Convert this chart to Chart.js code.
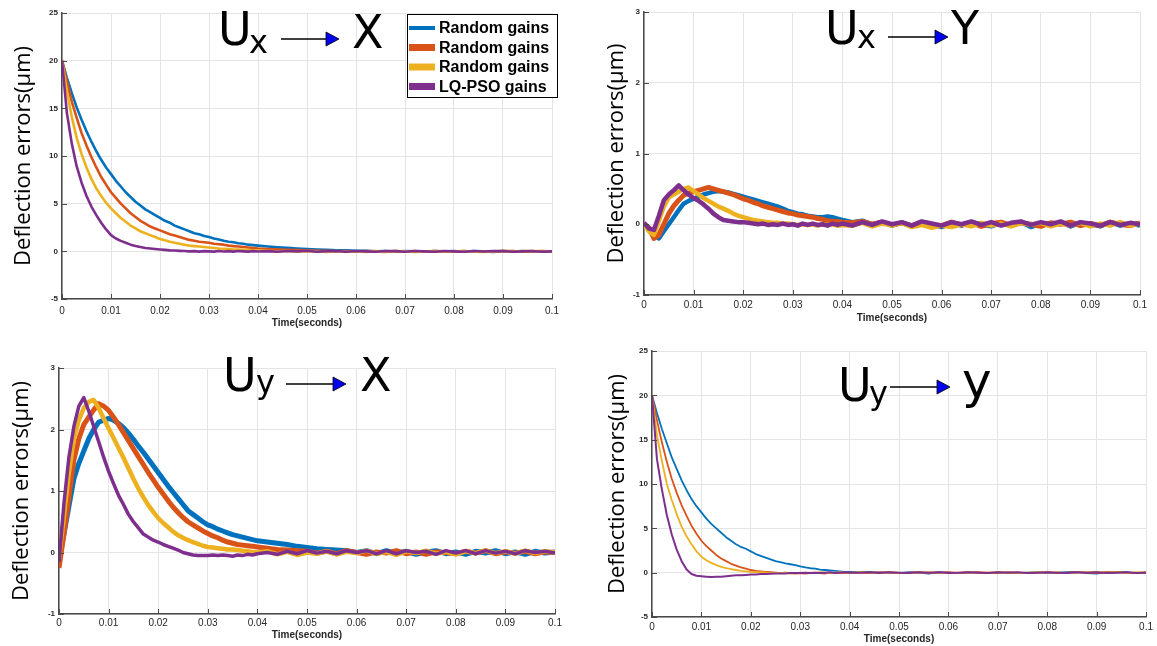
<!DOCTYPE html>
<html>
<head>
<meta charset="utf-8">
<script src="https://cdn.jsdelivr.net/npm/chart.js@4.4.1/dist/chart.umd.min.js"></script>
<style>
  body { margin: 0; background: #fff; width: 1157px; height: 646px; position: relative; overflow: hidden; }
  canvas { position: absolute; }
</style>
</head>
<body>
<canvas id="p1" width="578" height="330" style="left:0px;top:0px"></canvas>
<canvas id="p2" width="577" height="330" style="left:580px;top:0px"></canvas>
<canvas id="p3" width="578" height="316" style="left:0px;top:330px"></canvas>
<canvas id="p4" width="577" height="316" style="left:580px;top:330px"></canvas>
<script>
// time axis (seconds), shared by every panel
const timeS = [
  0, 0.001, 0.002, 0.003, 0.004, 0.005, 0.006, 0.007, 0.008, 0.009,
  0.010, 0.011, 0.012, 0.013, 0.014, 0.015, 0.016, 0.017, 0.018, 0.019,
  0.020, 0.021, 0.022, 0.023, 0.024, 0.025, 0.026, 0.027, 0.028, 0.029,
  0.030, 0.031, 0.032, 0.033, 0.034, 0.035, 0.036, 0.037, 0.038, 0.039,
  0.040,
  0.042, 0.044, 0.046, 0.048, 0.050, 0.052, 0.054, 0.056, 0.058, 0.060,
  0.062, 0.064, 0.066, 0.068, 0.070, 0.072, 0.074, 0.076, 0.078, 0.080,
  0.082, 0.084, 0.086, 0.088, 0.090, 0.092, 0.094, 0.096, 0.098, 0.100
];

const seriesNames = ['Random gains', 'Random gains', 'Random gains', 'LQ-PSO gains'];
const seriesColors = ['#0072BD', '#D95319', '#EDB120', '#7E2F8E'];

const xTicks = [0, 0.01, 0.02, 0.03, 0.04, 0.05, 0.06, 0.07, 0.08, 0.09, 0.1];
const xTickLabels = ['0', '0.01', '0.02', '0.03', '0.04', '0.05', '0.06', '0.07', '0.08', '0.09', '0.1'];
const yTicksBig = [-5, 0, 5, 10, 15, 20, 25];
const yTicksSmall = [-1, 0, 1, 2, 3];

// Ux -> X
const p1Blue = [20, 18.2, 16.6, 15.1, 13.8, 12.6, 11.5, 10.5, 9.6, 8.8, 8.1, 7.4, 6.8, 6.2, 5.7, 5.2, 4.8, 4.4, 4.1, 3.8,
  3.5, 3.2, 3.0, 2.7, 2.5, 2.3, 2.1, 1.9, 1.8, 1.6, 1.5, 1.35, 1.25, 1.1, 1.0, 0.95, 0.85, 0.8, 0.7, 0.65, 0.6,
  0.5, 0.42, 0.36, 0.3, 0.25, 0.2, 0.17, 0.12, 0.1, 0.05, 0.06, 0.0, 0.04, -0.04, 0.02, 0.0, -0.05, 0.04, -0.02, 0.02,
  -0.05, 0.02, 0.0, -0.06, 0.02, -0.03, 0.03, -0.05, 0.0, -0.03];
const p1Orange = [20, 17.8, 15.7, 14.0, 12.4, 11.1, 9.9, 8.8, 7.8, 7.0, 6.2, 5.6, 5.0, 4.5, 4.0, 3.6, 3.2, 2.9, 2.6, 2.4,
  2.2, 2.0, 1.8, 1.65, 1.5, 1.35, 1.2, 1.1, 1.0, 0.95, 0.9, 0.8, 0.75, 0.7, 0.6, 0.55, 0.5, 0.45, 0.4, 0.35, 0.3,
  0.25, 0.2, 0.17, 0.13, 0.1, 0.05, 0.06, 0.0, 0.04, -0.04, 0.02, 0.0, -0.06, 0.02, -0.02, 0.04, -0.04, 0.02, 0.0, -0.04,
  0.04, -0.02, 0.0, -0.04, 0.02, 0.04, -0.04, 0.0, 0.02, -0.02];
const p1Yellow = [20, 16.8, 14.1, 11.9, 10.2, 8.8, 7.6, 6.6, 5.8, 5.1, 4.5, 4.0, 3.5, 3.1, 2.7, 2.4, 2.1, 1.9, 1.7, 1.5,
  1.3, 1.15, 1.0, 0.9, 0.8, 0.7, 0.6, 0.55, 0.5, 0.45, 0.4, 0.35, 0.3, 0.27, 0.24, 0.2, 0.18, 0.15, 0.13, 0.1, 0.1,
  0.06, 0.0, 0.04, -0.04, 0.02, 0.0, -0.06, 0.04, -0.02, 0.0, -0.06, 0.02, -0.04, 0.02, 0.0, -0.06, 0.0, 0.04, -0.04, 0.0,
  0.04, -0.04, -0.06, 0.0, 0.04, -0.04, 0.02, 0.04, -0.04, 0.0];
const p1Purple = [20, 14.5, 11.3, 8.9, 7.2, 5.8, 4.7, 3.8, 3.0, 2.3, 1.7, 1.35, 1.1, 0.9, 0.7, 0.55, 0.45, 0.35, 0.3, 0.25,
  0.2, 0.15, 0.1, 0.08, 0.05, 0.03, 0.0, 0.02, -0.03, 0.02, 0.0, -0.03, 0.03, -0.02, 0.02, -0.03, 0.03, 0.0, -0.03, 0.02, -0.02,
  0.02, -0.04, 0.04, 0.0, 0.06, -0.04, 0.02, 0.04, -0.04, 0.04, 0.0, -0.04, 0.04, 0.02, -0.04, 0.04, 0.0, -0.04, 0.04, 0.0,
  -0.04, 0.04, -0.02, 0.02, 0.04, -0.04, 0.0, 0.04, -0.04, 0.0];

// Ux -> Y
const p2Blue = [0.0, -0.05, -0.15, -0.2, -0.1, 0.0, 0.1, 0.2, 0.29, 0.33, 0.36, 0.39, 0.42, 0.44, 0.46, 0.47, 0.46, 0.45, 0.43, 0.41,
  0.39, 0.37, 0.35, 0.33, 0.31, 0.29, 0.27, 0.25, 0.22, 0.19, 0.17, 0.15, 0.14, 0.12, 0.11, 0.1, 0.1, 0.11, 0.1, 0.08, 0.06,
  0.03, 0.05, 0.0, 0.03, -0.02, 0.02, -0.03, 0.03, 0.0, -0.04, 0.02, -0.02, 0.03, 0.0, -0.03, 0.02, -0.02, 0.03, -0.04, 0.01,
  -0.02, 0.03, -0.03, 0.02, 0.0, -0.03, 0.03, -0.02, 0.01, -0.02];
const p2Orange = [0.0, -0.05, -0.2, -0.15, 0.0, 0.15, 0.26, 0.34, 0.41, 0.44, 0.46, 0.48, 0.5, 0.52, 0.5, 0.48, 0.46, 0.44, 0.42, 0.39,
  0.36, 0.34, 0.31, 0.29, 0.26, 0.24, 0.22, 0.2, 0.18, 0.16, 0.15, 0.13, 0.12, 0.11, 0.1, 0.08, 0.07, 0.05, 0.04, 0.04, 0.03,
  0.02, 0.04, 0.0, 0.03, -0.01, 0.02, -0.02, 0.03, 0.0, -0.02, 0.03, -0.01, 0.02, -0.03, 0.01, 0.03, -0.02, 0.02, 0.0, -0.03,
  0.02, 0.0, 0.03, -0.02, 0.01, -0.02, 0.03, 0.0, -0.02, 0.02];
const p2Yellow = [0.0, -0.1, -0.15, 0.05, 0.25, 0.38, 0.42, 0.46, 0.5, 0.52, 0.47, 0.42, 0.37, 0.33, 0.29, 0.25, 0.22, 0.19, 0.15, 0.12,
  0.1, 0.08, 0.06, 0.05, 0.04, 0.03, 0.02, 0.02, 0.01, 0.01, 0.0, -0.01, 0.0, -0.01, 0.0, -0.02, 0.0, -0.01, 0.0, -0.02, -0.01,
  -0.02, 0.02, -0.03, 0.01, -0.02, 0.02, -0.04, -0.01, -0.05, -0.02, -0.04, 0.0, -0.03, 0.02, -0.02, 0.01, -0.03, 0.02, -0.01, 0.02,
  -0.03, 0.01, -0.02, 0.02, -0.03, 0.01, -0.02, 0.03, -0.02, 0.01];
const p2Purple = [0.02, -0.06, -0.08, 0.12, 0.34, 0.42, 0.48, 0.55, 0.48, 0.42, 0.37, 0.33, 0.28, 0.22, 0.15, 0.1, 0.06, 0.05, 0.04, 0.03,
  0.03, 0.02, 0.01, 0.0, 0.01, -0.01, 0.0, -0.01, 0.01, -0.01, 0.0, -0.02, 0.01, -0.01, 0.01, -0.01, 0.0, -0.02, 0.01, -0.01, 0.01,
  -0.02, 0.03, -0.01, 0.04, 0.0, 0.03, -0.02, 0.04, 0.01, -0.02, 0.03, 0.0, 0.04, -0.01, 0.03, -0.02, 0.02, 0.04, -0.01, 0.03,
  0.0, 0.04, -0.02, 0.03, 0.01, -0.02, 0.03, -0.01, 0.02, 0.0];

// Uy -> X
const p3Blue = [-0.1, 0.3, 0.75, 1.2, 1.45, 1.65, 1.85, 2.0, 2.12, 2.15, 2.18, 2.15, 2.1, 2.03, 1.94, 1.84, 1.73, 1.63, 1.52, 1.41,
  1.3, 1.19, 1.08, 0.98, 0.88, 0.78, 0.68, 0.62, 0.56, 0.5, 0.45, 0.42, 0.38, 0.35, 0.32, 0.29, 0.27, 0.25, 0.23, 0.21, 0.19,
  0.17, 0.15, 0.13, 0.1, 0.08, 0.06, 0.05, 0.04, 0.03, 0.0, 0.03, -0.02, 0.03, -0.01, 0.02, -0.03, 0.01, 0.03, -0.02, 0.01,
  -0.03, 0.02, -0.01, 0.03, -0.02, 0.01, -0.03, 0.02, -0.01, 0.01];
const p3Orange = [-0.25, 0.3, 0.9, 1.5, 1.85, 2.08, 2.2, 2.32, 2.42, 2.38, 2.31, 2.2, 2.08, 1.95, 1.82, 1.69, 1.56, 1.43, 1.3, 1.18,
  1.06, 0.95, 0.84, 0.74, 0.65, 0.57, 0.5, 0.45, 0.4, 0.35, 0.31, 0.27, 0.24, 0.2, 0.17, 0.15, 0.13, 0.12, 0.11, 0.1, 0.09,
  0.07, 0.05, 0.04, 0.03, 0.02, -0.01, 0.02, -0.02, 0.03, 0.0, -0.03, 0.01, -0.01, 0.03, -0.02, 0.01, -0.03, 0.01, 0.0, -0.02,
  0.02, -0.01, 0.03, -0.02, 0.01, -0.01, 0.02, -0.02, 0.01, 0.0];
const p3Yellow = [-0.1, 0.6, 1.3, 1.85, 2.15, 2.35, 2.45, 2.48, 2.35, 2.18, 2.02, 1.86, 1.7, 1.54, 1.37, 1.2, 1.04, 0.9, 0.77, 0.66,
  0.56, 0.48, 0.41, 0.34, 0.28, 0.24, 0.2, 0.17, 0.14, 0.11, 0.09, 0.08, 0.07, 0.06, 0.05, 0.05, 0.04, 0.03, 0.02, 0.01, 0.0,
  0.02, -0.03, 0.01, -0.04, 0.0, -0.02, 0.02, -0.03, 0.01, -0.01, 0.03, -0.02, 0.01, -0.04, 0.02, -0.01, 0.03, -0.02, 0.01, -0.03,
  0.02, -0.01, 0.03, -0.01, 0.02, -0.02, 0.03, -0.01, 0.02, 0.0];
const p3Purple = [-0.15, 0.8, 1.55, 2.05, 2.38, 2.52, 2.3, 2.05, 1.8, 1.55, 1.32, 1.12, 0.93, 0.78, 0.62, 0.5, 0.4, 0.3, 0.25, 0.2,
  0.17, 0.13, 0.1, 0.07, 0.04, 0.0, -0.02, -0.04, -0.05, -0.05, -0.05, -0.04, -0.05, -0.04, -0.05, -0.06, -0.04, -0.05, -0.03, -0.04, -0.02,
  0.0, -0.03, 0.02, -0.02, 0.03, -0.01, 0.02, -0.02, 0.03, 0.0, 0.03, -0.02, 0.03, -0.02, 0.03, 0.0, 0.02, -0.03, 0.03, -0.01,
  0.03, -0.02, 0.03, -0.01, 0.02, -0.02, 0.03, 0.0, 0.02, -0.01];

// Uy -> y
const p4Blue = [20, 18.0, 16.2, 14.6, 13.0, 11.7, 10.4, 9.3, 8.3, 7.5, 6.8, 6.1, 5.5, 5.0, 4.5, 4.0, 3.6, 3.2, 2.9, 2.7,
  2.4, 2.1, 1.9, 1.7, 1.5, 1.3, 1.2, 1.05, 0.95, 0.85, 0.7, 0.6, 0.5, 0.45, 0.35, 0.3, 0.25, 0.2, 0.15, 0.1, 0.1,
  0.05, 0.1, 0.0, 0.05, -0.05, 0.05, 0.0, -0.1, 0.05, 0.0, -0.05, 0.05, 0.0, -0.05, 0.05, 0.0, -0.05, 0.0, 0.05, -0.05,
  0.0, 0.05, 0.1, -0.05, -0.1, 0.05, 0.0, 0.05, -0.05, 0.0];
const p4Orange = [20, 17.2, 14.7, 12.5, 10.6, 9.0, 7.6, 6.4, 5.3, 4.4, 3.6, 3.0, 2.5, 2.0, 1.6, 1.3, 1.0, 0.8, 0.6, 0.45,
  0.3, 0.2, 0.15, 0.1, 0.05, 0.0, -0.05, 0.0, -0.05, -0.1, -0.05, -0.1, -0.05, 0.0, -0.05, -0.1, 0.0, -0.05, 0.0, -0.05, 0.0,
  0.0, -0.05, 0.05, 0.0, -0.05, 0.0, 0.05, -0.05, 0.0, 0.05, -0.05, 0.0, 0.05, 0.0, -0.05, 0.05, 0.0, -0.05, 0.0, 0.05,
  -0.05, 0.0, 0.05, 0.0, -0.05, 0.05, 0.1, 0.0, -0.05, 0.05];
const p4Yellow = [20, 15.5, 12.6, 10.0, 8.2, 6.6, 5.2, 4.1, 3.2, 2.4, 1.8, 1.4, 1.1, 0.85, 0.65, 0.5, 0.4, 0.3, 0.2, 0.15,
  0.1, 0.05, 0.05, 0.0, -0.05, 0.0, -0.05, 0.0, -0.1, -0.05, 0.0, -0.05, 0.0, -0.05, 0.05, 0.0, -0.05, 0.0, 0.05, 0.0, -0.05,
  0.05, 0.0, -0.05, 0.05, 0.0, -0.05, 0.0, 0.05, 0.0, -0.05, 0.0, 0.05, -0.05, 0.0, 0.05, 0.0, -0.05, 0.0, 0.05, 0.0,
  0.05, -0.05, 0.0, 0.05, 0.1, 0.0, 0.05, -0.05, 0.05, 0.0];
const p4Purple = [20, 12.8, 9.4, 6.5, 4.3, 2.6, 1.3, 0.35, -0.15, -0.35, -0.4, -0.45, -0.5, -0.45, -0.45, -0.4, -0.35, -0.3, -0.3, -0.25,
  -0.2, -0.2, -0.15, -0.15, -0.12, -0.1, -0.1, -0.08, -0.05, -0.05, -0.05, 0.0, -0.05, 0.0, -0.05, 0.0, 0.05, -0.05, 0.0, 0.05, 0.0,
  0.0, 0.05, -0.05, 0.05, 0.0, -0.05, 0.05, 0.0, 0.05, -0.05, 0.0, 0.05, 0.0, -0.05, 0.05, 0.0, 0.05, -0.05, 0.0, 0.05,
  0.0, -0.05, 0.05, 0.0, 0.05, -0.05, 0.0, 0.05, -0.05, 0.0];

const axisColor = '#4a4a4a';
const textColor = '#262626';

// panel layout: canvas size, plot box inside canvas [left, top, right, bottom]
const panels = [
  { id: 'p1', w: 578, h: 330, plot: [62, 13, 552, 299], yMin: -5, yMax: 25, yTicks: yTicksBig,
    series: [p1Blue, p1Orange, p1Yellow, p1Purple], widths: [2.6, 2.6, 2.6, 2.6],
    yTitlePad: 11, xTitlePad: 1, xTickPad: 6, legend: true,
    note: { u: [218, 45], sub: ['x', 249, 53], arrow: [281, 339, 39], tail: ['X', 352, 48] } },
  { id: 'p2', w: 577, h: 330, plot: [64, 12, 560, 295], yMin: -1, yMax: 3, yTicks: yTicksSmall,
    series: [p2Blue, p2Orange, p2Yellow, p2Purple], widths: [4.5, 5, 4.5, 4.5],
    yTitlePad: 24, xTitlePad: 6, xTickPad: 4, legend: false,
    note: { u: [245, 44], sub: ['x', 277, 48], arrow: [308, 368, 37], tail: ['Y', 371, 44] } },
  { id: 'p3', w: 578, h: 316, plot: [59, 38, 555, 284], yMin: -1, yMax: 3, yTicks: yTicksSmall,
    series: [p3Blue, p3Orange, p3Yellow, p3Purple], widths: [5, 5, 4.5, 3.5],
    yTitlePad: 9, xTitlePad: 5, xTickPad: 3, legend: false,
    note: { u: [223, 61], sub: ['y', 256, 63], arrow: [286, 346, 54], tail: ['X', 360, 61] } },
  { id: 'p4', w: 577, h: 316, plot: [72, 21, 567, 287], yMin: -5, yMax: 25, yTicks: yTicksBig,
    series: [p4Blue, p4Orange, p4Yellow, p4Purple], widths: [1.8, 1.8, 1.8, 2],
    yTitlePad: 25, xTitlePad: 1, xTickPad: 4, legend: false,
    note: { u: [258, 71], sub: ['y', 289, 74], arrow: [310, 370, 57], tail: ['y', 382, 68] } }
];

function buildDatasets(p) {
  return p.series.map(function (vals, k) {
    return {
      label: seriesNames[k],
      data: vals.map(function (v, i) { return { x: timeS[i], y: v }; }),
      borderColor: seriesColors[k],
      borderWidth: p.widths[k],
      borderJoinStyle: 'round',
      pointRadius: 0,
      tension: 0,
      order: 4 - k
    };
  });
}

// MATLAB style inward tick marks
const innerTicks = {
  id: 'innerTicks',
  afterDatasetsDraw(chart) {
    const ctx = chart.ctx, a = chart.chartArea;
    const xs = chart.scales.x, ys = chart.scales.y;
    ctx.save();
    ctx.strokeStyle = axisColor;
    ctx.lineWidth = 1;
    ctx.beginPath();
    xs.ticks.forEach(function (t) {
      const px = Math.round(xs.getPixelForValue(t.value)) + 0.5;
      ctx.moveTo(px, a.bottom); ctx.lineTo(px, a.bottom - 5);
    });
    ys.ticks.forEach(function (t) {
      const py = Math.round(ys.getPixelForValue(t.value)) + 0.5;
      ctx.moveTo(a.left, py); ctx.lineTo(a.left + 5, py);
    });
    ctx.stroke();
    ctx.restore();
  }
};

// big "U -> X" label and the legend box
const panelNotes = {
  id: 'panelNotes',
  afterDraw(chart, args, opts) {
    const ctx = chart.ctx, n = opts.note;
    ctx.save();
    ctx.fillStyle = '#000';
    ctx.textBaseline = 'alphabetic';
    ctx.textAlign = 'left';
    ctx.font = '46px "DejaVu Sans"';
    ctx.fillText('U', n.u[0], n.u[1]);
    ctx.font = '32px "DejaVu Sans"';
    ctx.fillText(n.sub[0], n.sub[1], n.sub[2]);
    ctx.font = (n.tail[0] === 'y' ? '50px' : '46px') + ' "DejaVu Sans"';
    ctx.fillText(n.tail[0], n.tail[1], n.tail[2]);
    const x1 = n.arrow[0], x2 = n.arrow[1], y = n.arrow[2];
    ctx.strokeStyle = '#000';
    ctx.lineWidth = 1.3;
    ctx.beginPath(); ctx.moveTo(x1, y); ctx.lineTo(x2 - 12, y); ctx.stroke();
    ctx.fillStyle = '#0000ee';
    ctx.beginPath();
    ctx.moveTo(x2 - 13, y - 7); ctx.lineTo(x2, y); ctx.lineTo(x2 - 13, y + 7); ctx.closePath();
    ctx.fill();
    ctx.lineWidth = 0.8; ctx.stroke();

    if (opts.legend) {
      ctx.fillStyle = '#fff';
      ctx.fillRect(407, 14, 150, 83);
      ctx.strokeStyle = '#000';
      ctx.lineWidth = 1;
      ctx.strokeRect(407.5, 14.5, 150, 83);
      const rows = [28, 47.5, 67, 86.5];
      ctx.font = 'bold 16px "Liberation Sans"';
      ctx.textBaseline = 'middle';
      seriesNames.forEach(function (name, k) {
        ctx.strokeStyle = seriesColors[k];
        ctx.lineWidth = k === 0 ? 4 : 7;
        ctx.beginPath(); ctx.moveTo(409, rows[k]); ctx.lineTo(435, rows[k]); ctx.stroke();
        ctx.fillStyle = '#000';
        ctx.fillText(name, 439, rows[k] + 1);
      });
    }
    ctx.restore();
  }
};

panels.forEach(function (p) {
  const yAxisWidth = p.plot[0];
  const xAxisHeight = p.h - p.plot[3];
  new Chart(document.getElementById(p.id).getContext('2d'), {
    type: 'line',
    data: { datasets: buildDatasets(p) },
    plugins: [innerTicks, panelNotes],
    options: {
      responsive: false,
      animation: false,
      devicePixelRatio: 1,
      layout: { padding: { left: 0, top: p.plot[1], right: p.w - p.plot[2], bottom: 0 } },
      plugins: {
        legend: { display: false },
        tooltip: { enabled: false },
        panelNotes: { note: p.note, legend: p.legend }
      },
      scales: {
        x: {
          type: 'linear',
          min: 0,
          max: 0.1,
          afterBuildTicks: function (ax) { ax.ticks = xTicks.map(function (v) { return { value: v }; }); },
          afterFit: function (ax) { ax.height = xAxisHeight; },
          ticks: {
            autoSkip: false,
            maxRotation: 0,
            padding: p.xTickPad,
            color: textColor,
            font: { family: 'Liberation Sans', size: 10 },
            callback: function (v, i) { return xTickLabels[i]; }
          },
          grid: { color: '#e4e4e4', drawTicks: false },
          border: { color: axisColor, width: 1.5 },
          title: {
            display: true,
            text: 'Time(seconds)',
            color: textColor,
            font: { family: 'Liberation Sans', size: 10, weight: 'bold' },
            padding: { top: 0, bottom: p.xTitlePad }
          }
        },
        y: {
          min: p.yMin,
          max: p.yMax,
          afterBuildTicks: function (ax) { ax.ticks = p.yTicks.map(function (v) { return { value: v }; }); },
          afterFit: function (ax) { ax.width = yAxisWidth; },
          ticks: {
            padding: 4,
            color: textColor,
            font: { family: 'Liberation Sans', size: 8, weight: 'bold' }
          },
          grid: { color: '#e4e4e4', drawTicks: false },
          border: { color: axisColor, width: 1.5 },
          title: {
            display: true,
            text: 'Deflection errors(µm)',
            color: '#000',
            font: { family: 'Open Sans', size: 22 },
            padding: { top: p.yTitlePad, bottom: 0 }
          }
        }
      }
    }
  });
});
</script>
</body>
</html>
